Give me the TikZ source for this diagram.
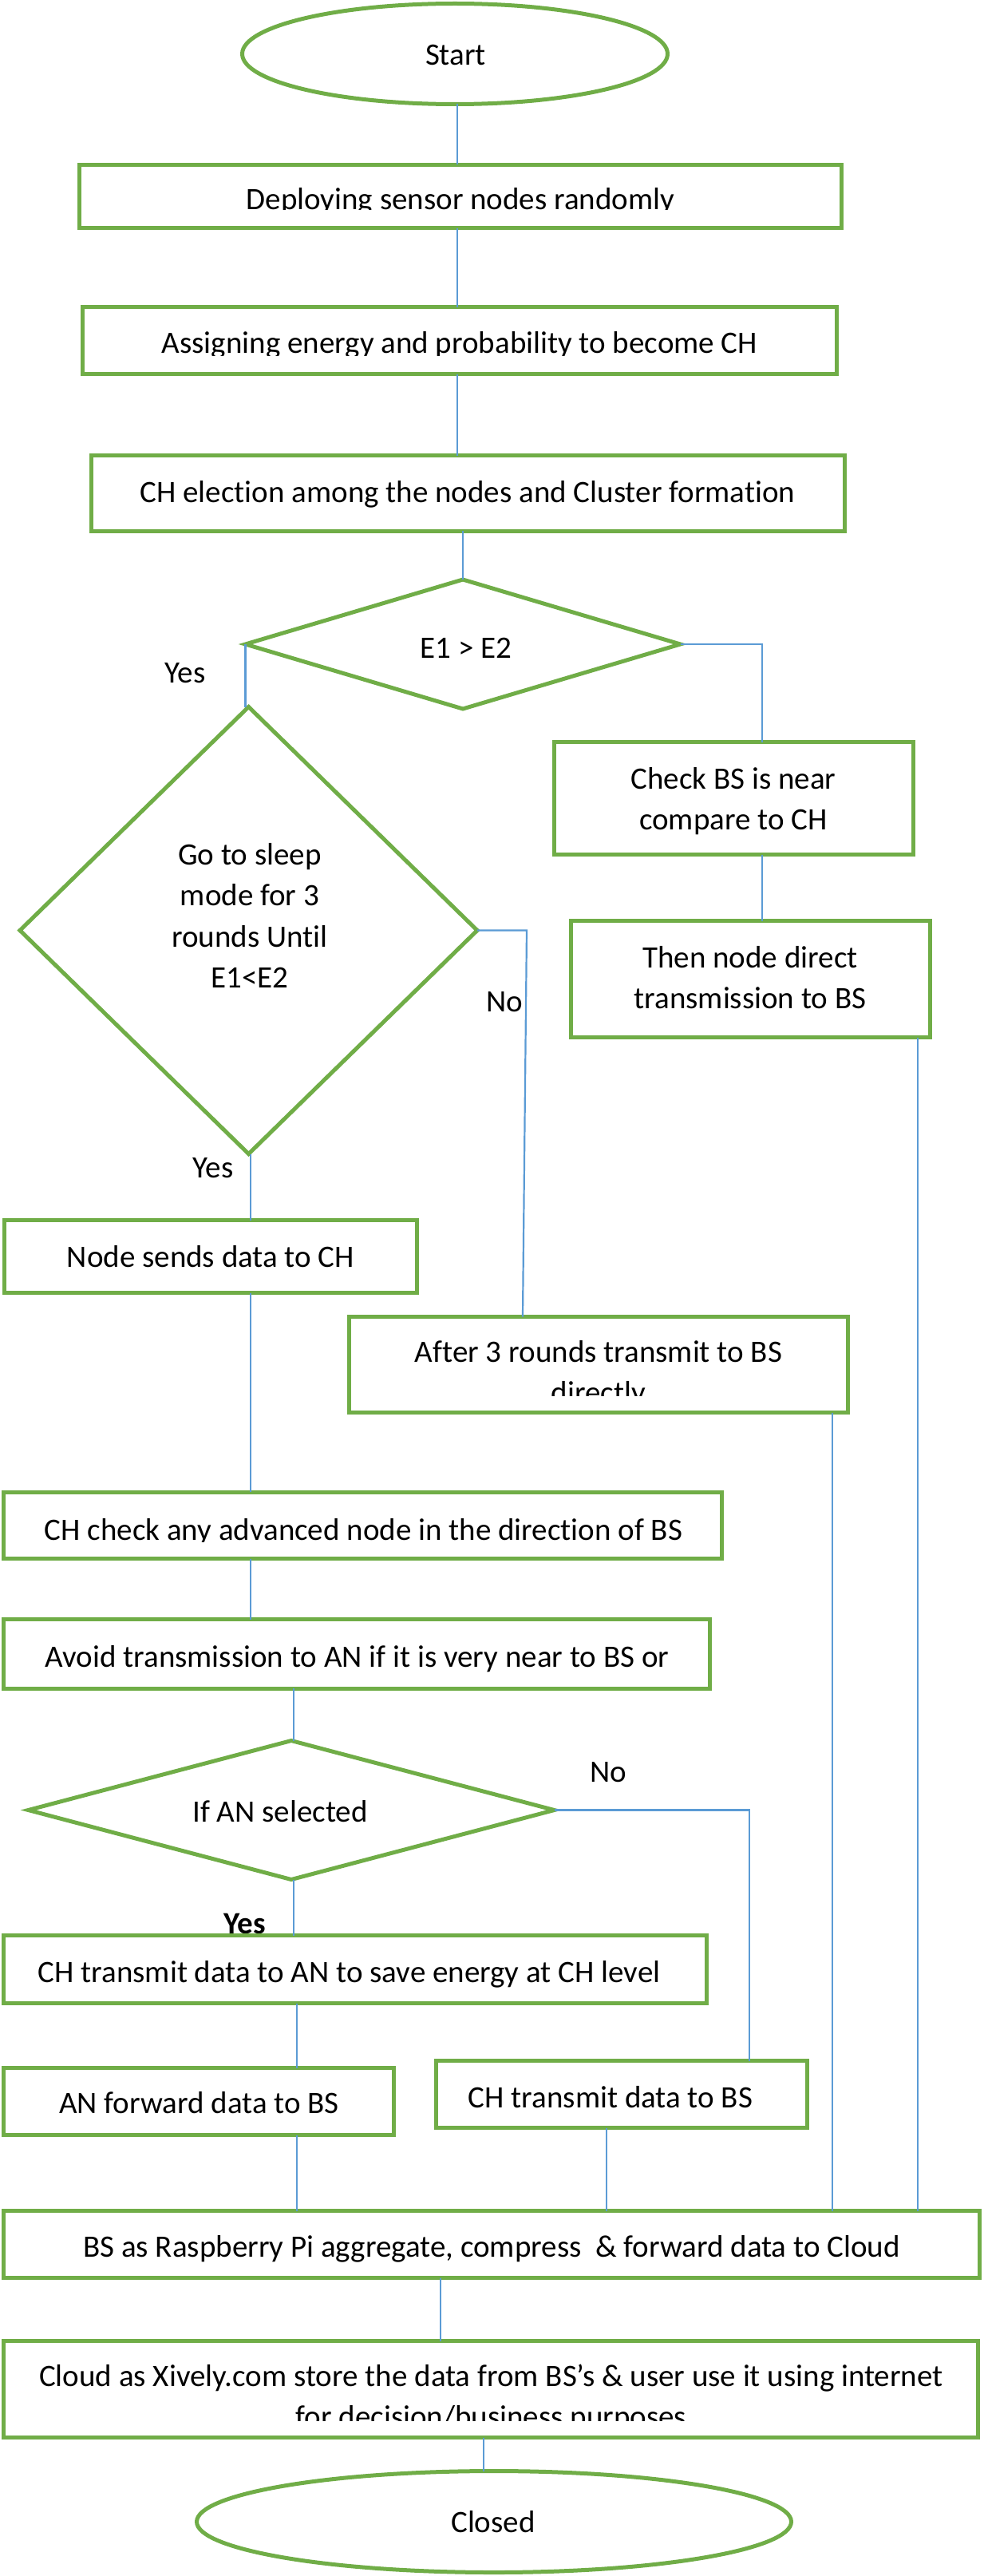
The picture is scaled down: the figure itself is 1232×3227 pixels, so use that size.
\documentclass[tikz,border=0pt]{standalone}
\usepackage{fontspec}
\setmainfont[Ligatures={NoCommon}]{Carlito}
\usetikzlibrary{shapes.geometric,calc}
\definecolor{boxgreen}{HTML}{70AD47}
\definecolor{linkblue}{HTML}{5B9BD5}
\tikzset{
  boxnode/.style={draw=boxgreen, line width=5pt, rectangle, inner sep=0pt, outer sep=0pt},
  ovalnode/.style={draw=boxgreen, line width=5pt, ellipse, inner sep=0pt, outer sep=0pt},
  decnode/.style={draw=boxgreen, line width=5pt, diamond, inner sep=0pt, outer sep=0pt},
  txt/.style={inner sep=0pt, anchor=base, font=\fontsize{39}{51}\selectfont},
  link/.style={draw=linkblue, line width=2.2pt},
}
\begin{document}
\begin{tikzpicture}[x=1pt, y=-1pt]
\useasboundingbox (0,0) rectangle (1232,3227);
\fill[white] (0,0) rectangle (1232,3227);

% ---- shapes ----
\node[ovalnode, minimum width=533, minimum height=126] (start) at (570,67.5) {};
\node[boxnode, minimum width=955, minimum height=79] (b1) at (577,246) {};
\node[boxnode, minimum width=945, minimum height=84] (b2) at (576,426.5) {};
\node[boxnode, minimum width=944, minimum height=94.5] (b3) at (586,618) {};
\node[decnode, minimum width=545, minimum height=162] (d1) at (580,807) {};
\node[decnode, minimum width=573, minimum height=560] (d2) at (311.5,1165.5) {};
\node[boxnode, minimum width=450, minimum height=141] (b4) at (919.5,1000) {};
\node[boxnode, minimum width=450, minimum height=146] (b5) at (940.5,1226.5) {};
\node[boxnode, minimum width=517, minimum height=91] (b6) at (264,1574) {};
\node[boxnode, minimum width=625, minimum height=120] (b7) at (750,1709.5) {};
\node[boxnode, minimum width=900, minimum height=83.5] (b8) at (454,1911) {};
\node[boxnode, minimum width=885, minimum height=86.5] (b9) at (447,2072) {};
\node[decnode, minimum width=659, minimum height=174] (d3) at (365,2267.5) {};
\node[txt, font=\fontsize{39}{51}\selectfont\bfseries] (yes3) at (307,2422) {Yes};
\node[boxnode, minimum width=881, minimum height=85] (b10) at (445,2467) {};
\node[boxnode, minimum width=489, minimum height=84] (b11) at (249,2632.5) {};
\node[boxnode, minimum width=465, minimum height=84] (b12) at (779,2623.5) {};
\node[boxnode, minimum width=1223, minimum height=84] (b13) at (616,2811.5) {};
\node[boxnode, minimum width=1221, minimum height=121] (b14) at (615,2993) {};
\node[ovalnode, minimum width=745, minimum height=127] (closed) at (619,3159) {};

% ---- texts ----
\node[txt] (tstart) at (571,82) {Start};
\begin{scope}
  \clip (97,204) rectangle (1057,263);
  \node[txt] (t1) at (577,262) {Deploying sensor nodes randomly};
\end{scope}
\begin{scope}
  \clip (101,382) rectangle (1051,445);
  \node[txt] (t2) at (576,442) {Assigning energy and probability to become CH};
\end{scope}
\node[txt] (t3) at (586,629) {CH election among the nodes and Cluster formation};
\node[txt] (te) at (584,824) {E1 > E2};
\node[txt] (yes1) at (232,855) {Yes};
\node[txt] (ts1) at (313,1083) {Go to sleep};
\node[txt] (ts2) at (313,1134.5) {mode for 3};
\node[txt] (ts3) at (313,1186) {rounds Until};
\node[txt] (ts4) at (313,1237) {E1<E2};
\node[txt] (no1) at (632,1267) {No};
\node[txt] (tc1) at (919,988) {Check BS is near};
\node[txt] (tc2) at (919,1039) {compare to CH};
\node[txt] (tn1) at (940,1212) {Then node direct};
\node[txt] (tn2) at (940,1263) {transmission to BS};
\node[txt] (yes2) at (267,1475) {Yes};
\node[txt] (t6) at (264,1587) {Node sends data to CH};
\node[txt] (t7a) at (750,1706) {After 3 rounds transmit to BS};
\begin{scope}
  \clip (435,1647) rectangle (1065,1748);
  \node[txt] (t7b) at (750,1757) {directly};
\end{scope}
\begin{scope}
  \clip (3,1869) rectangle (907,1931);
  \node[txt] (t8) at (455.5,1929) {CH check any advanced node in the direction of BS};
\end{scope}
\node[txt] (t9) at (447.5,2088) {Avoid transmission to AN if it is very near to BS or};
\node[txt] (tif) at (351,2282) {If AN selected};
\node[txt] (no2) at (762,2232) {No};
\node[txt] (t10) at (437.5,2483) {CH transmit data to AN to save energy at CH level};
\node[txt] (t11) at (249.5,2647) {AN forward data to BS};
\node[txt] (t12) at (765,2640) {CH transmit data to BS};
\node[txt] (t13) at (616,2827) {BS as Raspberry Pi aggregate, compress\ \ \& forward data to Cloud};
\node[txt] (t14a) at (615.5,2989) {Cloud as Xively.com store the data from BS’s \& user use it using internet};
\begin{scope}
  \clip (3,2930) rectangle (1228,3032);
  \node[txt] (t14b) at (615.5,3040) {for decision/business purposes};
\end{scope}
\node[txt] (tclosed) at (618,3172) {Closed};

% ---- connectors ----
\draw[link] ([xshift=3]start.south) -- ([xshift=3]start.south |- b1.north);
\draw[link] ([xshift=-4]b1.south) -- ([xshift=-4]b1.south |- b2.north);
\draw[link] ([xshift=-3]b2.south) -- ([xshift=-3]b2.south |- b3.north);
\draw[link] (d1.north |- b3.south) -- (d1.north);
\draw[link] (d1.west) -- (d1.west |- d2.north);
\draw[link] (d1.east) -| ([xshift=35.5]b4.north);
\draw[link] ([xshift=35.5]b4.south) -- ([xshift=35.5]b4.south |- b5.north);
\draw[link] ([xshift=209.5]b5.south) -- ([xshift=209.5]b5.south |- b13.north);
\coordinate (nobend) at (660,1165.5);
\draw[link] (d2.east) -- (nobend) -- ([xshift=-95]b7.north);
\draw[link] ([xshift=2.5]d2.south) -- ([xshift=2.5]d2.south |- b6.north);
\draw[link] ([xshift=50]b6.south) -- ([xshift=50]b6.south |- b8.north);
\draw[link] ([xshift=293]b7.south) -- ([xshift=293]b7.south |- b13.north);
\draw[link] ([xshift=-140]b8.south) -- ([xshift=-140]b8.south |- b9.north);
\draw[link] ([xshift=-79]b9.south) -- ([xshift=-79]b9.south |- d3.north);
\draw[link] (d3.east) -| ([xshift=160]b12.north);
\draw[link] ([xshift=3]d3.south) -- ([xshift=3]d3.south |- b10.north);
\draw[link] ([xshift=-73]b10.south) -- ([xshift=-73]b10.south |- b11.north);
\draw[link] ([xshift=123]b11.south) -- ([xshift=123]b11.south |- b13.north);
\draw[link] ([xshift=-19]b12.south) -- ([xshift=-19]b12.south |- b13.north);
\draw[link] ([xshift=-64]b13.south) -- ([xshift=-64]b13.south |- b14.north);
\draw[link] ([xshift=-9]b14.south) -- ([xshift=-9]b14.south |- closed.north);
\end{tikzpicture}
\end{document}
